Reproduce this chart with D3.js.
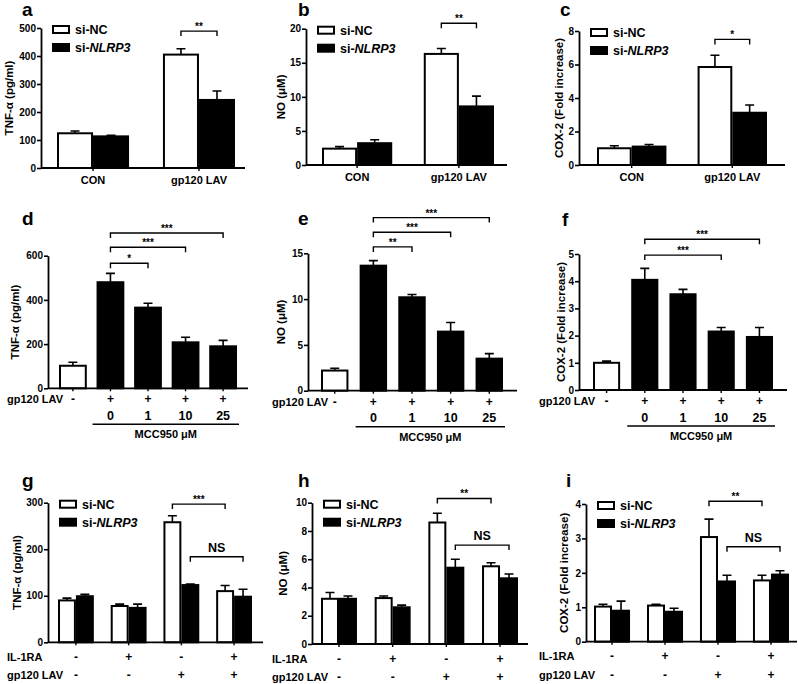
<!DOCTYPE html>
<html>
<head>
<meta charset="utf-8">
<script src="https://cdn.jsdelivr.net/npm/d3@7"></script>
<style>
  body { margin: 0; background: #fff; }
  svg { font-family: "Liberation Sans", Arial, sans-serif; font-weight: bold; }
</style>
</head>
<body>
<svg id="fig" width="798" height="684"></svg>
<script>
// ---- data ----
const siGroups = ["CON", "gp120 LAV"];
const seriesNames = ["si-NC", "si-NLRP3"];
const mccGroups = ["ctrl", "0", "1", "10", "25"];
const mccGp120 = ["-", "+", "+", "+", "+"];
const mccDose = ["", "0", "1", "10", "25"];
const ilGroups = ["g1", "g2", "g3", "g4"];
const ilRA = ["-", "+", "-", "+"];
const ilGp120 = ["-", "-", "+", "+"];

// a
const aNC = [124, 405], aNCErr = [8, 21];
const aKD = [113, 243], aKDErr = [4, 32];
const aTicks = [0, 100, 200, 300, 400, 500];
const aSig = [{ from: [1, 0], to: [1, 1], y: 489, label: "**" }];
// b
const bNC = [2.4, 16.3], bNCErr = [0.3, 0.8];
const bKD = [3.2, 8.6], bKDErr = [0.5, 1.5];
const bTicks = [0, 5, 10, 15, 20];
const bSig = [{ from: [1, 0], to: [1, 1], y: 20.8, label: "**" }];
// c
const cNC = [1.0, 5.85], cNCErr = [0.15, 0.7];
const cKD = [1.1, 3.12], cKDErr = [0.12, 0.46];
const cTicks = [0, 2, 4, 6, 8];
const cSig = [{ from: [1, 0], to: [1, 1], y: 7.5, label: "*" }];
// d
const dVals = [102, 480, 365, 208, 190], dErr = [16, 40, 20, 23, 27];
const dTicks = [0, 200, 400, 600];
const dSig = [
  { from: [1], to: [2], y: 566, label: "*" },
  { from: [1], to: [3], y: 638, label: "***" },
  { from: [1], to: [4], y: 703, label: "***" }
];
// e
const eVals = [2.2, 13.65, 10.2, 6.45, 3.5], eErr = [0.25, 0.55, 0.3, 1.0, 0.55];
const eTicks = [0, 5, 10, 15];
const eSig = [
  { from: [1], to: [2], y: 15.7, label: "**" },
  { from: [1], to: [3], y: 17.3, label: "***" },
  { from: [1], to: [4], y: 18.9, label: "***" }
];
// f
const fVals = [1.0, 4.05, 3.52, 2.15, 1.95], fErr = [0.06, 0.42, 0.18, 0.15, 0.35];
const fTicks = [0, 1, 2, 3, 4, 5];
const fSig = [
  { from: [1], to: [3], y: 4.96, label: "***" },
  { from: [1], to: [4], y: 5.54, label: "***" }
];
// g
const gNC = [90, 78, 258, 110], gNCErr = [5, 4, 14, 12];
const gKD = [99, 74, 123, 98], gKDErr = [4, 8, 2, 16];
const gTicks = [0, 100, 200, 300];
const gSig = [
  { from: [2, 0], to: [3, 0], y: 297, label: "***" },
  { from: [2, 1], to: [3, 1], y: 184, label: "NS" }
];
// h
const hNC = [3.2, 3.25, 8.6, 5.5], hNCErr = [0.45, 0.15, 0.65, 0.25];
const hKD = [3.2, 2.6, 5.4, 4.65], hKDErr = [0.2, 0.15, 0.6, 0.3];
const hTicks = [0, 2, 4, 6, 8, 10];
const hSig = [
  { from: [2, 0], to: [3, 0], y: 10.3, label: "**" },
  { from: [2, 1], to: [3, 1], y: 7.0, label: "NS" }
];
// i
const iNC = [1.02, 1.05, 3.04, 1.78], iNCErr = [0.07, 0.04, 0.52, 0.15];
const iKD = [0.9, 0.87, 1.75, 1.95], iKDErr = [0.28, 0.1, 0.18, 0.11];
const iTicks = [0, 1, 2, 3, 4];
const iSig = [
  { from: [2, 0], to: [3, 0], y: 4.08, label: "**" },
  { from: [2, 1], to: [3, 1], y: 2.76, label: "NS" }
];

const tnfLabel = "TNF-\u03b1 (pg/ml)", noLabel = "NO (\u03bcM)", coxLabel = "COX-2 (Fold increase)";

// ---- panel layout ----
const panels = [
  { letter: "a", lx: 22, ly: 16, kind: "si", groups: siGroups, nc: aNC, ncErr: aNCErr, kd: aKD, kdErr: aKDErr, ticks: aTicks, sig: aSig, ylab: tnfLabel, ylx: 9,
    ax: 41, axEnd: 245, y0: 168, yTop: 28, barL: 57, barR: 235, pad: 0.32 },
  { letter: "b", lx: 298, ly: 16, kind: "si", groups: siGroups, nc: bNC, ncErr: bNCErr, kd: bKD, kdErr: bKDErr, ticks: bTicks, sig: bSig, ylab: noLabel, ylx: 281,
    ax: 306, axEnd: 507, y0: 165, yTop: 28.7, barL: 322, barR: 494, pad: 0.31 },
  { letter: "c", lx: 560, ly: 16, kind: "si", groups: siGroups, nc: cNC, ncErr: cNCErr, kd: cKD, kdErr: cKDErr, ticks: cTicks, sig: cSig, ylab: coxLabel, ylx: 559,
    ax: 579, axEnd: 785, y0: 165, yTop: 31, barL: 597, barR: 767, pad: 0.31 },
  { letter: "d", lx: 22, ly: 225, kind: "mcc", groups: mccGroups, vals: dVals, err: dErr, ticks: dTicks, sig: dSig, ylab: tnfLabel, ylx: 15,
    ax: 48, axEnd: 248, y0: 388.3, yTop: 255.7, barL: 59, barR: 237, pad: 0.26, rowX: 7 },
  { letter: "e", lx: 298, ly: 225, kind: "mcc", groups: mccGroups, vals: eVals, err: eErr, ticks: eTicks, sig: eSig, ylab: noLabel, ylx: 281,
    ax: 308, axEnd: 517, y0: 390.7, yTop: 253.3, barL: 321, barR: 503, pad: 0.29, rowX: 272 },
  { letter: "f", lx: 562, ly: 226, kind: "mcc", groups: mccGroups, vals: fVals, err: fErr, ticks: fTicks, sig: fSig, ylab: coxLabel, ylx: 561,
    ax: 579, axEnd: 787, y0: 390, yTop: 254, barL: 593, barR: 773, pad: 0.29, rowX: 539 },
  { letter: "g", lx: 22, ly: 487, kind: "il", groups: ilGroups, nc: gNC, ncErr: gNCErr, kd: gKD, kdErr: gKDErr, ticks: gTicks, sig: gSig, ylab: tnfLabel, ylx: 17,
    ax: 48, axEnd: 263, y0: 642.3, yTop: 502.7, barL: 58, barR: 252, pad: 0.32, rowX: 7 },
  { letter: "h", lx: 298, ly: 487, kind: "il", groups: ilGroups, nc: hNC, ncErr: hNCErr, kd: hKD, kdErr: hKDErr, ticks: hTicks, sig: hSig, ylab: noLabel, ylx: 283,
    ax: 312, axEnd: 528, y0: 644, yTop: 502.7, barL: 321, barR: 518, pad: 0.33, rowX: 272 },
  { letter: "i", lx: 566, ly: 487, kind: "il", groups: ilGroups, nc: iNC, ncErr: iNCErr, kd: iKD, kdErr: iKDErr, ticks: iTicks, sig: iSig, ylab: coxLabel, ylx: 564,
    ax: 586, axEnd: 797, y0: 641.7, yTop: 504, barL: 594, barR: 789, pad: 0.32, rowX: 539 }
];

const svg = d3.select("#fig");

const drawPanel = (p) => {
  const g = svg.append("g");
  const yMax = p.ticks[p.ticks.length - 1];
  const y = d3.scaleLinear().domain([0, yMax]).range([p.y0, p.yTop]);
  const x0 = d3.scaleBand().domain(p.groups).range([p.barL, p.barR]).paddingInner(p.pad).paddingOuter(0);
  const grouped = p.kind !== "mcc";
  const x1 = d3.scaleBand().domain(seriesNames).range([0, x0.bandwidth()]);

  // bar records
  let bars = [];
  if (grouped) {
    p.groups.forEach((gr, i) => {
      bars.push({ g: i, s: 0, x: x0(gr) + x1(seriesNames[0]), w: x1.bandwidth(), v: p.nc[i], e: p.ncErr[i], fill: "#fff" });
      bars.push({ g: i, s: 1, x: x0(gr) + x1(seriesNames[1]), w: x1.bandwidth(), v: p.kd[i], e: p.kdErr[i], fill: "#000" });
    });
  } else {
    p.groups.forEach((gr, i) => {
      bars.push({ g: i, x: x0(gr), w: x0.bandwidth(), v: p.vals[i], e: p.err[i], fill: i === 0 ? "#fff" : "#000" });
    });
  }

  // error bars (upper only)
  g.selectAll(".err").data(bars).enter().append("path")
    .attr("d", d => {
      const cx = d.x + d.w / 2, top = y(d.v + d.e);
      return `M${cx},${y(d.v)}V${top}M${cx - 4.5},${top}H${cx + 4.5}`;
    })
    .attr("stroke", "#000").attr("stroke-width", 1.6).attr("fill", "none");

  g.selectAll(".bar").data(bars).enter().append("rect")
    .attr("x", d => d.x + 1)
    .attr("y", d => y(d.v))
    .attr("width", d => d.w - 2)
    .attr("height", d => p.y0 - y(d.v))
    .attr("fill", d => d.fill)
    .attr("stroke", "#000")
    .attr("stroke-width", 2);

  // y axis
  const yAxis = d3.axisLeft(y).tickValues(p.ticks).tickFormat(d3.format("d"))
    .tickSize(4).tickSizeOuter(0).tickPadding(1);
  const ya = g.append("g").attr("transform", `translate(${p.ax},0)`).call(yAxis)
    .attr("font-family", null).attr("font-size", null);
  ya.select(".domain").attr("stroke-width", 1.8);
  ya.selectAll(".tick line").attr("stroke-width", 1.6);
  ya.selectAll(".tick text").attr("font-size", 10).attr("font-weight", "bold");

  // x axis line + ticks at group centres
  g.append("line").attr("x1", p.ax).attr("x2", p.axEnd).attr("y1", p.y0).attr("y2", p.y0)
    .attr("stroke", "#000").attr("stroke-width", 1.8);
  g.selectAll(".xt").data(p.groups).enter().append("line")
    .attr("x1", d => x0(d) + x0.bandwidth() / 2).attr("x2", d => x0(d) + x0.bandwidth() / 2)
    .attr("y1", p.y0).attr("y2", p.y0 + 3)
    .attr("stroke", "#000").attr("stroke-width", 1.4);

  // y label
  g.append("text")
    .attr("transform", `translate(${p.ylx},${(p.y0 + p.yTop) / 2}) rotate(-90)`)
    .attr("text-anchor", "middle").attr("dominant-baseline", "central")
    .attr("font-size", 11.5).text(p.ylab);

  // panel letter
  g.append("text").attr("x", p.lx).attr("y", p.ly).attr("font-size", 19).text(p.letter);

  // significance brackets
  const barCenter = (ref) => {
    const b = grouped ? bars.find(d => d.g === ref[0] && d.s === ref[1]) : bars[ref[0]];
    return b.x + b.w / 2;
  };
  p.sig.forEach(s => {
    const xa = barCenter(s.from), xb = barCenter(s.to), yl = y(s.y);
    g.append("path").attr("d", `M${xa},${yl + 5}V${yl}H${xb}V${yl + 5}`)
      .attr("fill", "none").attr("stroke", "#000").attr("stroke-width", 1.4);
    const ns = s.label === "NS";
    g.append("text").attr("x", (xa + xb) / 2).attr("y", ns ? yl - 5 : yl - 1)
      .attr("text-anchor", "middle").attr("font-size", ns ? 12.5 : 10).text(s.label);
  });

  // legend
  if (grouped) {
    const lgx = p.ax + 11, lgy = p.yTop - 3;
    seriesNames.forEach((sn, i) => {
      g.append("rect").attr("x", lgx + 1).attr("y", lgy + i * 18 + 1).attr("width", 16).attr("height", 7)
        .attr("fill", i === 0 ? "#fff" : "#000").attr("stroke", "#000").attr("stroke-width", 2);
      const t = g.append("text").attr("x", lgx + 23).attr("y", lgy + i * 18 + 9).attr("font-size", 12.5);
      if (i === 0) t.text(sn);
      else { t.append("tspan").text("si-"); t.append("tspan").attr("font-style", "italic").text("NLRP3"); }
    });
  }

  // category labels
  const cx = d => x0(d) + x0.bandwidth() / 2;
  if (p.kind === "si") {
    g.selectAll(".cl").data(p.groups).enter().append("text")
      .attr("x", cx).attr("y", p.y0 + 16)
      .attr("text-anchor", "middle").attr("font-size", 11).text(d => d);
  } else if (p.kind === "mcc") {
    g.append("text").attr("x", p.rowX).attr("y", p.y0 + 15).attr("font-size", 11).text("gp120 LAV");
    g.selectAll(".r1").data(p.groups).enter().append("text")
      .attr("x", cx).attr("y", p.y0 + 15).attr("text-anchor", "middle").attr("font-size", 12)
      .text((d, i) => mccGp120[i]);
    g.selectAll(".r2").data(p.groups).enter().append("text")
      .attr("x", cx).attr("y", p.y0 + 31.5).attr("text-anchor", "middle").attr("font-size", 12.5)
      .text((d, i) => mccDose[i]);
    const lx1 = x0(p.groups[1]) - 4, lx2 = x0(p.groups[4]) + x0.bandwidth() + 2;
    g.append("line").attr("x1", lx1).attr("x2", lx2).attr("y1", p.y0 + 36).attr("y2", p.y0 + 36)
      .attr("stroke", "#000").attr("stroke-width", 1.6);
    g.append("text").attr("x", (lx1 + lx2) / 2).attr("y", p.y0 + 50).attr("text-anchor", "middle")
      .attr("font-size", 11).text("MCC950 \u03bcM");
  } else {
    g.append("text").attr("x", p.rowX).attr("y", p.y0 + 18.5).attr("font-size", 11).text("IL-1RA");
    g.append("text").attr("x", p.rowX).attr("y", p.y0 + 37).attr("font-size", 11).text("gp120 LAV");
    g.selectAll(".r1").data(p.groups).enter().append("text")
      .attr("x", cx).attr("y", p.y0 + 18.5).attr("text-anchor", "middle").attr("font-size", 12)
      .text((d, i) => ilRA[i]);
    g.selectAll(".r2").data(p.groups).enter().append("text")
      .attr("x", cx).attr("y", p.y0 + 37).attr("text-anchor", "middle").attr("font-size", 12)
      .text((d, i) => ilGp120[i]);
  }
};

panels.forEach(drawPanel);
</script>
</body>
</html>
